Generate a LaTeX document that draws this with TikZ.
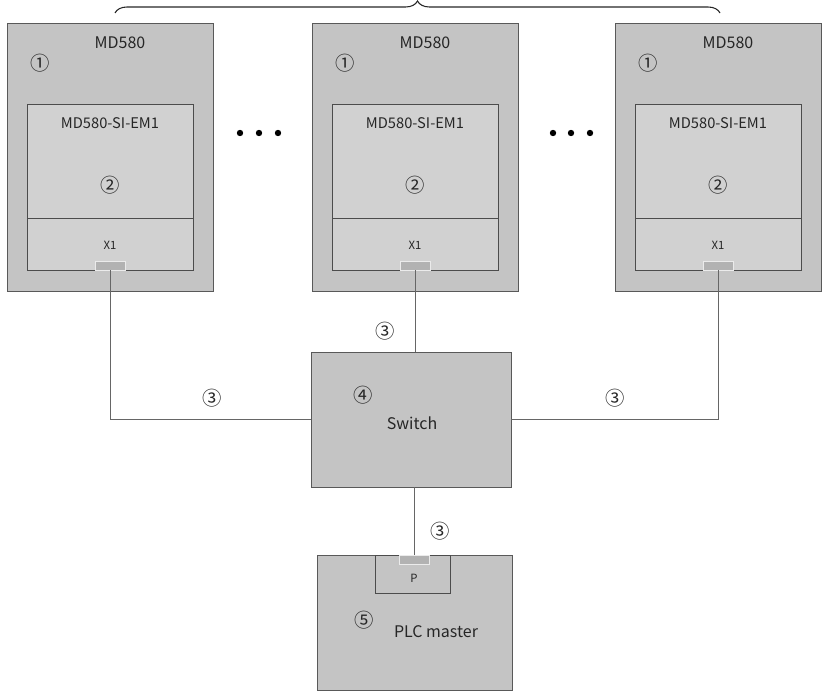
\documentclass[tikz,border=0pt]{standalone}
\usepackage{fontspec}
\setmainfont{Noto Sans CJK SC}
\usetikzlibrary{decorations.pathreplacing}
\newcommand{\px}{0.75pt}
\begin{document}
\begin{tikzpicture}[
  x=0.75pt, y=-0.75pt,
  font=\fontsize{12}{14}\selectfont,
  drive/.style={draw=black!65, fill=black!23, minimum width=206*\px, minimum height=268*\px, inner sep=0pt},
  card/.style={draw=black!70, fill=black!18, minimum width=166*\px, minimum height=166*\px, inner sep=0pt},
  port/.style={draw=black!8, fill=black!30, minimum width=30*\px, minimum height=9*\px, inner sep=0pt},
  dev/.style={draw=black!65, fill=black!23, minimum height=135*\px, inner sep=0pt},
  num/.style={font=\fontsize{14.5}{16}\selectfont, text=black!85},
  lbl/.style={text=black!85},
  tiny/.style={font=\fontsize{8.5}{10}\selectfont, text=black!85},
  link/.style={draw=black!60, line width=0.6pt}
]
\useasboundingbox (0,0) rectangle (825,691);

% brace over the drives
\draw[black!85, line width=0.8pt, decorate, decoration={brace, amplitude=9pt}]
  (115,13) -- (720,13);

% drive 1
\node[drive] (d1) at (110,157) {};
\node[card]  (c1) at (110,187) {};
\draw[black!70] (27,218) -- (193,218);
\node[port]  (p1) at (110,265.5) {};
\node[lbl]  at (120,43)  {MD580};
\node[num]  at (40,63)   {①};
\node[lbl, font=\fontsize{11}{13}\selectfont] at (110,123) {MD580-SI-EM1};
\node[num]  at (110,185) {②};
\node[tiny] at (110,245) {X1};

% drive 2
\node[drive] (d2) at (415,157) {};
\node[card]  (c2) at (415,187) {};
\draw[black!70] (332,218) -- (498,218);
\node[port]  (p2) at (415,265.5) {};
\node[lbl]  at (425,43)  {MD580};
\node[num]  at (345,63)  {①};
\node[lbl, font=\fontsize{11}{13}\selectfont] at (415,123) {MD580-SI-EM1};
\node[num]  at (415,185) {②};
\node[tiny] at (415,245) {X1};

% drive 3
\node[drive] (d3) at (718,157) {};
\node[card]  (c3) at (718,187) {};
\draw[black!70] (635,218) -- (801,218);
\node[port]  (p3) at (718,265.5) {};
\node[lbl]  at (728,43)  {MD580};
\node[num]  at (648,63)  {①};
\node[lbl, font=\fontsize{11}{13}\selectfont] at (718,123) {MD580-SI-EM1};
\node[num]  at (718,185) {②};
\node[tiny] at (718,245) {X1};

% dots between drives
\foreach \x in {240,259,278,553,571,590}
  \fill[black] (\x,133) circle (3.2*\px);

% switch
\node[dev, minimum width=200*\px] (sw) at (411,419.5) {};
\node[num] at (363,395) {④};
\node[lbl] at (412,423) {Switch};

% PLC master
\node[dev, minimum width=195*\px] (plc) at (414.5,622.5) {};
\node[draw=black!70, fill=black!23, minimum width=75*\px, minimum height=38*\px, inner sep=0pt] (pb) at (412.5,574) {};
\node[port] (pp) at (414,559.5) {};
\node[tiny] at (414,578) {P};
\node[num] at (364,620) {⑤};
\node[lbl] at (436,632) {PLC master};

% cables
\draw[link] (p1.south) |- (sw.west);
\draw[link] (p2.south) -- (p2.south |- sw.north);
\draw[link] (sw.east) -| (p3.south);
\draw[link] (pp.north |- sw.south) -- (pp.north);
\node[num] at (212,398) {③};
\node[num] at (385,331) {③};
\node[num] at (615,398) {③};
\node[num] at (440,531) {③};
\end{tikzpicture}
\end{document}
